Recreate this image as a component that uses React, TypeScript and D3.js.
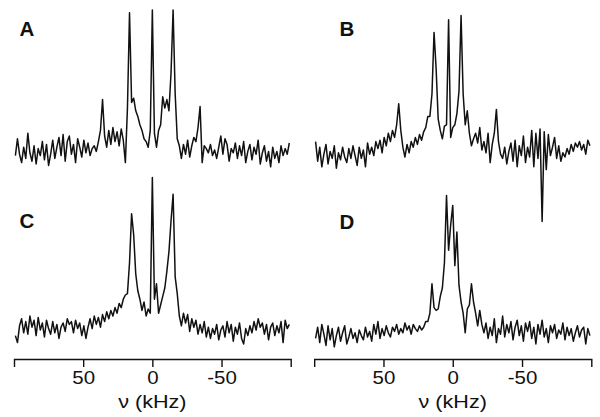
import React, { useEffect, useRef } from "react";
import * as d3 from "d3";

// Frequency grid (kHz), shared by all four spectra
const FREQ_START = 99;
const FREQ_STEP = 1.5;
const N_POINTS = 133;
const freqKHz: number[] = d3.range(N_POINTS).map((i) => FREQ_START - FREQ_STEP * i);

const axisDomain: [number, number] = [100, -100];
const tickValues = [50, 0, -50];
const xAxisTitle = "ν (kHz)";
const panelLabels = ["A", "B", "C", "D"];

// Intensities (a.u.), one per grid point
const spectrumA = [
  -4, 8, -3, -9, 2, -6, 12, -2, -8, 3,
  -10, 1, -4, 6, -7, 4, -11, -3, 7, -6,
  2, 9, -4, 11, -8, 6, 10, -3, 4, -9,
  8, 2, -5, 7, -2, 5, -4, 1, 3, -1,
  6, 14, 36, 10, 2, 14, 4, 16, 6, 13,
  3, 15, 7, -9, 30, 98, 34, 37, 28, 24,
  18, 14, 8, 6, 2, 14, 100, 12, 2, 14,
  18, 38, 30, 36, 28, 55, 100, 40, 8, 3,
  -6, 4, -3, 7, -5, 3, 9, 6, 16, 31,
  -9, 3, 1, -2, 4, -4, 0, -6, 2, 10,
  -3, 8, 4, -8, 1, -2, 5, -6, 3, -4,
  6, -9, -1, 4, -7, 2, -3, 7, -10, -2,
  3, -8, -1, -12, 2, -6, -1, -9, 3, -4,
  1, -3, 5,
];

const spectrumB = [
  6, -8, 2, -12, -3, 4, -10, -1, -6, 3,
  -13, -2, -7, 2, -5, -9, 1, -6, 3, -4,
  -11, 2, -6, 0, -12, 5, -3, 2, -4, 6,
  1, 7, -2, 9, 3, 12, 6, 14, 9, 18,
  33, 14, 2, -5, 4, -2, 6, 2, 9, 4,
  11, 7, 13, 16, 24, 24, 40, 84, 58, 22,
  14, 8, 17, 18, 93, 9, 16, 18, 26, 42,
  96, 40, 18, 28, 12, 3, 8, 12, 5, 16,
  0, 6, -2, 12, -9, 4, 12, 29, 6, -3,
  -6, 2, -10, -1, 5, -8, 7, -12, 3, -4,
  10, -9, 2, -5, 14, -12, 12, -6, 15, -51,
  13, -14, 11, -4, 2, 9, -6, 3, -8, -2,
  -5, 1, -3, 4, -1, 5, 2, 6, 0, 4,
  -3, 7, 3,
];

const spectrumC = [
  -4, -9, 3, 8, -2, 6, -3, 10, 2, 7,
  -4, 9, 0, 5, -5, 7, 1, -3, 6, -2,
  4, -6, 2, 5, -1, 8, 4, 6, -2, 7,
  1, 5, -4, 3, -6, 2, 8, 1, 10, 4,
  9, 2, 11, 6, 13, 8, 14, 10, 16, 12,
  19, 16, 22, 25, 26, 48, 83, 68, 40, 28,
  22, 14, 20, 10, 15, 12, 109, 22, 33, 12,
  18, 24, 30, 42, 56, 78, 97, 38, 26, 10,
  3, 12, 5, 11, -1, 8, 2, 7, -3, 4,
  -2, 6, -5, 2, -6, 1, -3, 4, -7, 0,
  3, -5, 6, -2, 4, -8, 2, -3, 5, -6,
  -10, 1, -4, 3, -2, 6, 0, 8, 2, 5,
  -3, 4, -7, 2, 5, -4, 3, -2, 6, -9,
  7, 1, 4,
];

const spectrumD = [
  -6, 2, -9, 4, -3, -11, 3, -7, 1, -12,
  -4, 2, -8, -2, 3, -10, -5, 1, -6, -2,
  -9, 0, -4, -7, 2, -5, -1, -8, 4, -3,
  6, -6, 1, -4, 3, -2, -5, 2, -1, 4,
  -3, 1, -2, 5, 0, 3, -3, 4, 1, -1,
  3, 0, 2, 6, 6, 12, 33, 16, 14, 15,
  24, 30, 48, 96, 57, 75, 89, 46, 70, 32,
  20, 12, -2, 15, 18, 33, 20, 12, 3, 14,
  4, -2, 5, -6, 2, -4, 8, -9, 1, -3,
  10, -5, 4, -2, 6, -7, 2, 7, -4, 3,
  -8, 5, -1, 6, -6, 2, -10, 4, -3, 7,
  -5, 1, -9, 3, -2, 4, -6, 0, -3, 5,
  -7, 2, -4, 1, -8, -2, 3, -5, 0, 2,
  -10, 1, -4,
];

const spectra = [spectrumA, spectrumB, spectrumC, spectrumD];

// Layout
const W = 600;
const H = 417;
const colX: [number, number][] = [
  [14, 290.7],
  [314.2, 591.3],
];
const rowY: [number, number][] = [
  [150, 10],
  [330, 190],
];
const axisY = 359;
const labelPos = [
  [19.5, 35.5],
  [339.5, 35.5],
  [19.5, 227.5],
  [339.5, 228.5],
];
const FONT = "'Liberation Sans', Arial, Helvetica, sans-serif";
const INK = "#111";

export default function App() {
  const axesRef = useRef<SVGGElement>(null);

  const xScales = colX.map((r) => d3.scaleLinear().domain(axisDomain).range(r));
  const yScales = rowY.map((r) => d3.scaleLinear().domain([0, 100]).range(r));

  useEffect(() => {
    if (!axesRef.current) return;
    const g = d3.select(axesRef.current);
    g.selectAll("*").remove();
    xScales.forEach((x) => {
      const axis = d3
        .axisBottom(x)
        .tickValues(tickValues)
        .tickSizeInner(8)
        .tickSizeOuter(8)
        .tickPadding(5)
        .tickFormat((d) => String(d));
      const ag = g.append("g").attr("transform", `translate(0,${axisY})`).call(axis);
      ag.select(".domain").attr("stroke", INK).attr("stroke-width", 1.4);
      ag.selectAll(".tick line").attr("stroke", INK).attr("stroke-width", 1.4);
      ag.selectAll(".tick text")
        .attr("fill", INK)
        .attr("font-family", FONT)
        .attr("font-size", 17.5)
        .attr("transform", "scale(1.17,1)");
      ag.attr("font-family", null).attr("font-size", null);
    });
  }, []);

  const paths = spectra.map((data, k) => {
    const x = xScales[k % 2];
    const y = yScales[Math.floor(k / 2)];
    const line = d3
      .line<number>()
      .x((_, i) => x(freqKHz[i]))
      .y((d) => y(d));
    return line(data) || "";
  });

  return (
    <svg
      width={W}
      height={H}
      style={{ position: "absolute", left: 0, top: 0, background: "#fff" }}
    >
      <rect x={0} y={0} width={W} height={H} fill="#fff" />
      {paths.map((p, k) => (
        <path
          key={k}
          d={p}
          fill="none"
          stroke={INK}
          strokeWidth={1.5}
          strokeLinejoin="round"
        />
      ))}
      {panelLabels.map((l, k) => (
        <text
          key={l}
          x={labelPos[k][0]}
          y={labelPos[k][1]}
          fontFamily={FONT}
          fontWeight="bold"
          fontSize={20.5}
          fill={INK}
        >
          {l}
        </text>
      ))}
      <g ref={axesRef} />
      {xScales.map((x, k) => (
        <text
          key={k}
          transform={`translate(${x(0)},${408}) scale(1.2,1)`}
          textAnchor="middle"
          fontFamily={FONT}
          fontSize={18}
          fill={INK}
        >
          {xAxisTitle}
        </text>
      ))}
    </svg>
  );
}
